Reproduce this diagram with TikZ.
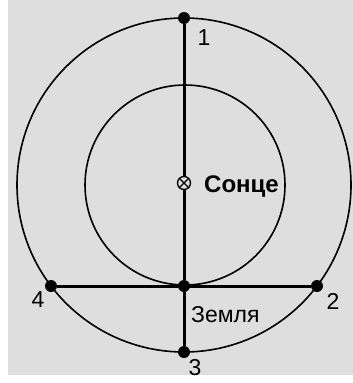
\documentclass[tikz,border=0pt]{standalone}
\usepackage{fontspec}
\setmainfont{Liberation Sans}
\usetikzlibrary{positioning}
\definecolor{bggray}{RGB}{222,222,222}
\begin{document}
\begin{tikzpicture}[x=1pt,y=-1pt,dot/.style={circle,fill=black,inner sep=0pt,minimum size=12pt},orbit/.style={line width=1.6pt},axis/.style={line width=3pt},lbl/.style={font=\fontsize{23}{26}\selectfont,inner sep=0pt}]
\useasboundingbox (0,0) rectangle (353,383);
\fill[white] (0,0) rectangle (353,383);
\fill[bggray] (8,0) rectangle (353,375);

% orbits
\draw[orbit] (184,185) circle[radius=167];
\draw[orbit] (185,185) circle[radius=100];

\node[circle,draw,line width=1.3pt,inner sep=0pt,minimum size=13pt] (sun) at (184,183) {};
\draw[line width=1.1pt] (sun.north west)--(sun.south east) (sun.north east)--(sun.south west);
\node[dot] (p1) at (184,18) {};
\node[dot] (p3) at (184,352) {};
\node[dot] (earth) at (184,286) {};
\node[dot] (p4) at (51,286) {};
\node[dot] (p2) at (317,286) {};

\draw[axis] (p1)--(sun);
\draw[axis] (sun)--(earth);
\draw[axis] (earth)--(p3);
\draw[axis] (p4)--(p2);

\node[lbl] at (204,38) {1};
\node[lbl] at (333,301) {2};
\node[lbl] at (195,368) {3};
\node[lbl] at (38,300) {4};
\node[lbl,font=\fontsize{24}{27}\selectfont\bfseries,anchor=base west] at (204,192) {Сонце};
\node[lbl,anchor=base west] at (191,322) {Земля};
\end{tikzpicture}
\end{document}
